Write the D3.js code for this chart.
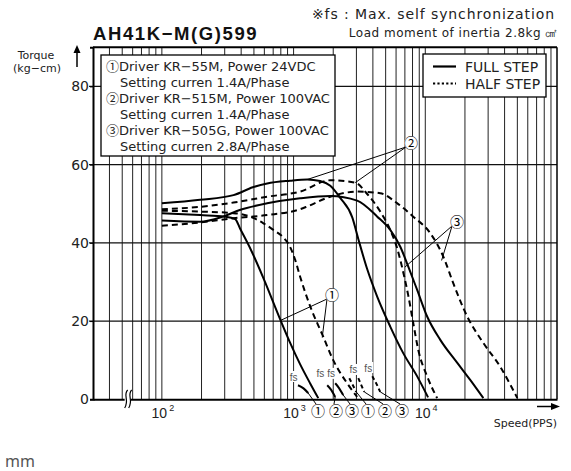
<!DOCTYPE html>
<html><head><meta charset="utf-8">
<script src="https://cdn.jsdelivr.net/npm/d3@7"></script>
<style>body{margin:0;background:#fff}text{font-family:"DejaVu Sans",sans-serif}</style>
</head><body>
<svg id="c" width="571" height="471"></svg>
<script>
// ---------- data (speed PPS, torque kg-cm) ----------
const title = "AH41K−M(G)599";
const noteFs = "※fs : Max. self synchronization";
const noteLoad = "Load moment of inertia 2.8kg ㎠";
const yTicks = [0, 20, 40, 60, 80];
const xMajor = [100, 1000, 10000];
const xMajorExp = ["2", "3", "4"];
const driverMarks = ["①", "", "②", "", "③", ""];
const driverLines = [
  "Driver KR−55M, Power 24VDC",
  "Setting curren 1.4A/Phase",
  "Driver KR−515M, Power 100VAC",
  "Setting curren 1.4A/Phase",
  "Driver KR−505G, Power 100VAC",
  "Setting curren 2.8A/Phase"
];
const stepLabels = ["FULL STEP", "HALF STEP"];

const full1 = [[100,47.6],[195,47.1],[300,46.7],[360,46.1],[393,43.6],[470,38.5],[590,31],[790,20.5],[940,14.5],[1120,9],[1340,4],[1540,0.3]];
const full2 = [[100,50.1],[195,51],[350,52.2],[490,54.2],[630,55.2],[940,55.9],[1270,56.2],[1590,55.8],[1900,54.6],[2260,51.5],[2790,46.5],[3100,41],[3620,33.3],[4320,26.2],[5420,18.6],[6800,11.8],[8700,5.8],[10500,0.5]];
const full3 = [[100,45.7],[195,45.4],[290,46.7],[390,48.4],[630,50.1],[1120,51.4],[1900,52],[3040,50.8],[4320,46.7],[5420,43.3],[6460,39],[7430,33.9],[8690,27.9],[10350,21.1],[13000,15.2],[17500,9.3],[22000,4.9],[27600,0.3]];
const half1 = [[100,48.2],[195,48],[350,47.6],[470,46.7],[590,45],[725,43],[830,41.5],[940,39],[1030,35.6],[1120,31.4],[1340,23.7],[1680,16],[2000,10],[2550,4.1],[3040,0.6]];
const half2 = [[100,48.6],[195,49.2],[350,50.3],[630,51.8],[1120,53.1],[1900,56],[2940,55.4],[3620,52.5],[4550,48],[5420,43.3],[6130,38.5],[6800,32.5],[7430,26.5],[8100,19.5],[8850,12.6],[10350,5.8],[12300,0.3]];
const half3 = [[100,44.4],[195,45.2],[350,46.3],[630,47.1],[1120,48.6],[1270,49.3],[1900,51.8],[3040,53.1],[4550,52.7],[6130,50.1],[8100,46.7],[10900,42.5],[13700,36.5],[16300,29.7],[20850,21.1],[27600,14.4],[37100,8.3],[50000,0.3]];

// fs (max self synchronization) short curves
const fsFull1 = [[1080,3.6],[1190,2.8],[1290,1.6]];
const fsFull2 = [[1800,3.6],[1930,2.4],[2070,0.6]];
const fsFull3 = [[2070,4.1],[2200,3.0],[2380,1.1]];
const fsHalf1 = [[2650,5.4],[2800,3.8],[2990,1.9]];
const fsHalf2 = [[3100,5.4],[3250,3.8],[3440,1.9]];
const fsHalf3 = [[3960,5.9],[4250,4.0],[4550,1.9]];
const fsLabelSpeeds = [1000, 1600, 1930, 2840, 3690];
const fsLabelTorques = [5.7, 6.5, 6.5, 7.5, 8.0];
const bottomMarks = ["①","②","③","①","②","③"];

// ---------- drawing ----------
const svg = d3.select("#c");
const x = d3.scaleLog().domain([30, 100000]).range([93, 557]);
const y = d3.scaleLinear().domain([0, 90]).range([399.3, 47.3]);
const X0 = x.range()[0], X1 = x.range()[1], Y0 = y.range()[0], Y1 = y.range()[1];
const FONT = "DejaVu Sans, sans-serif";
const CJK = "Noto Sans CJK KR, sans-serif";
const SANS = "Liberation Sans, Arial, sans-serif";

// vertical grid
const grid = [];
for (let e = 1; e <= 4; e++) for (let m = 1; m <= 9; m++) { const v = m * Math.pow(10, e); if (v > 30 && v < 100000) grid.push(v); }
svg.append("g").selectAll("line").data(grid).join("line")
  .attr("x1", d => x(d)).attr("x2", d => x(d)).attr("y1", Y1).attr("y2", Y0)
  .attr("stroke", "#222").attr("stroke-width", 1);
// horizontal grid
svg.append("g").selectAll("line").data(yTicks.filter(d => d > 0)).join("line")
  .attr("x1", X0 - 4).attr("x2", X1).attr("y1", d => y(d)).attr("y2", d => y(d))
  .attr("stroke", "#111").attr("stroke-width", 1.2);

// frame
svg.append("line").attr("x1", X0).attr("x2", X1).attr("y1", Y1).attr("y2", Y1).attr("stroke", "#000").attr("stroke-width", 2);
svg.append("line").attr("x1", X1).attr("x2", X1).attr("y1", Y1).attr("y2", Y0).attr("stroke", "#000").attr("stroke-width", 1.5);

// y axis
const yAxis = svg.append("g").attr("transform", `translate(${X0},0)`)
  .call(d3.axisLeft(y).tickValues(yTicks).tickSize(3).tickPadding(1).tickFormat(d3.format("d")));
yAxis.select(".domain").attr("stroke", "#000").attr("stroke-width", 2);
yAxis.selectAll("text").attr("font-size", 14).attr("fill", "#222").attr("font-family", SANS);
yAxis.selectAll(".tick line").attr("stroke", "#000");

// x axis
const xAxis = svg.append("g").attr("transform", `translate(0,${Y0})`)
  .call(d3.axisBottom(x).tickValues(xMajor).tickSize(0).tickFormat(""));
xAxis.select(".domain").attr("stroke", "#000").attr("stroke-width", 2);
const xl = svg.append("g").selectAll("text").data(xMajor).join("text")
  .attr("x", d => x(d) + 1).attr("y", 418).attr("text-anchor", "middle")
  .attr("font-size", 14).attr("fill", "#222").style("font-family", SANS);
xl.append("tspan").text("10");
xl.append("tspan").text((d, i) => xMajorExp[i]).attr("font-size", 9).attr("dx", 2).attr("dy", -7);

// axis break mark
const bx = x(55);
svg.append("rect").attr("x", bx - 3).attr("y", 393).attr("width", 6).attr("height", 12).attr("fill", "#fff");
[-2, 2].forEach(o => {
  svg.append("path").attr("d", `M${bx + o + 2},390 C${bx + o - 3},395 ${bx + o + 4},400 ${bx + o - 1},408`)
    .attr("fill", "none").attr("stroke", "#000").attr("stroke-width", 1.2);
});

// legend box left
svg.append("rect").attr("x", 101).attr("y", 55).attr("width", 234).attr("height", 101)
  .attr("fill", "#fff").attr("stroke", "#000").attr("stroke-width", 1.3);
const dl = svg.append("g").selectAll("text").data(driverLines).join("text")
  .attr("x", (d, i) => i % 2 === 0 ? 106 : 120).attr("y", (d, i) => 70.5 + i * 16)
  .attr("font-size", 13).attr("fill", "#222").style("font-family", FONT);
dl.append("tspan").style("font-family", CJK).attr("font-size", 13).text((d, i) => driverMarks[i]);
dl.append("tspan").text(d => d);

// legend box right
svg.append("rect").attr("x", 423).attr("y", 54).attr("width", 123).attr("height", 43)
  .attr("fill", "#fff").attr("stroke", "#000").attr("stroke-width", 1.3);
svg.append("line").attr("x1", 433).attr("x2", 456).attr("y1", 66.5).attr("y2", 66.5).attr("stroke", "#000").attr("stroke-width", 2.2);
svg.append("line").attr("x1", 433).attr("x2", 456).attr("y1", 83.5).attr("y2", 83.5).attr("stroke", "#000").attr("stroke-width", 2.2).attr("stroke-dasharray", "2.2,2.2");
svg.append("g").selectAll("text").data(stepLabels).join("text")
  .attr("x", 465).attr("y", (d, i) => 71.5 + i * 17).attr("font-size", 14).attr("fill", "#222")
  .style("font-family", FONT).text(d => d);

// curves
const line = d3.line().x(d => x(d[0])).y(d => y(d[1])).curve(d3.curveMonotoneX);
const cg = svg.append("g").attr("fill", "none").attr("stroke", "#000").attr("stroke-width", 2);
[full1, full2, full3].forEach(s => cg.append("path").attr("d", line(s)));
[half1, half2, half3].forEach(s => cg.append("path").attr("d", line(s)).attr("stroke-dasharray", "6,4"));
[fsFull1, fsFull2, fsFull3].forEach(s => cg.append("path").attr("d", line(s)));
[fsHalf1, fsHalf2, fsHalf3].forEach(s => cg.append("path").attr("d", line(s)).attr("stroke-dasharray", "4,3"));

// fs labels
const fsG = svg.append("g");
fsLabelSpeeds.forEach((s, i) => {
  const yy = y(fsLabelTorques[i]);
  fsG.append("rect").attr("x", x(s) - 5).attr("y", yy - 6).attr("width", 10).attr("height", 11).attr("fill", "#fff");
  fsG.append("text").attr("x", x(s)).attr("y", yy + 3.5).attr("text-anchor", "middle").attr("font-size", 10)
    .attr("fill", "#555").style("font-family", SANS).text("fs");
});

// bottom circled marks + leaders
const fsEnds = [fsFull1, fsFull2, fsFull3, fsHalf1, fsHalf2, fsHalf3].map(s => s[s.length - 1]);
const markX = [318, 336, 352, 368, 385, 402];
const lg = svg.append("g").attr("stroke", "#000").attr("stroke-width", 1);
fsEnds.forEach((p, i) => {
  lg.append("line").attr("x1", x(p[0])).attr("y1", y(p[1])).attr("x2", markX[i] - 2).attr("y2", 404);
});
svg.append("g").selectAll("text").data(bottomMarks).join("text")
  .attr("x", (d, i) => markX[i]).attr("y", 416).attr("text-anchor", "middle")
  .attr("font-size", 14).attr("fill", "#000").style("font-family", CJK).text(d => d);

// curve call-outs
function callout(lbl, lx, ly, targets) {
  targets.forEach(t => lg.append("line").attr("x1", lx - 5).attr("y1", ly + 4).attr("x2", x(t[0])).attr("y2", y(t[1])));
  svg.append("circle").attr("cx", lx).attr("cy", ly).attr("r", 7).attr("fill", "#fff");
  svg.append("text").attr("x", lx).attr("y", ly + 5).attr("text-anchor", "middle").attr("font-size", 14)
    .attr("fill", "#000").style("font-family", CJK).text(lbl);
}
callout("①", 332, 295, [[800, 20.2], [1650, 15.8]]);
callout("②", 411, 143, [[1270, 56.2], [2940, 55.4]]);
callout("③", 457, 222, [[7000, 33.8], [13300, 35.5]]);

// titles and notes
svg.append("text").attr("x", 93).attr("y", 40).attr("font-size", 18.5).attr("font-weight", "bold")
  .attr("letter-spacing", 1.6).attr("fill", "#111").style("font-family", SANS).text(title);
svg.append("text").attr("x", 555).attr("y", 19).attr("text-anchor", "end").attr("font-size", 14).attr("letter-spacing", 0.9).attr("fill", "#222")
  .style("font-family", FONT).text(noteFs);
svg.append("text").attr("x", 558).attr("y", 37).attr("text-anchor", "end").attr("font-size", 12).attr("letter-spacing", 0.5).attr("fill", "#222")
  .style("font-family", FONT).text(noteLoad);

// y label + arrow
svg.append("text").attr("x", 36).attr("y", 59).attr("text-anchor", "middle").attr("font-size", 11).attr("fill", "#222").style("font-family", FONT).text("Torque");
svg.append("text").attr("x", 37).attr("y", 72).attr("text-anchor", "middle").attr("font-size", 11).attr("fill", "#222").style("font-family", FONT).text("(kg−cm)");
svg.append("line").attr("x1", 77).attr("x2", 77).attr("y1", 67).attr("y2", 50).attr("stroke", "#000").attr("stroke-width", 1.5);
svg.append("path").attr("d", "M77,45 L73.5,53 L80.5,53 Z").attr("fill", "#000");

// x label + arrow
svg.append("text").attr("x", 557).attr("y", 427).attr("text-anchor", "end").attr("font-size", 11).attr("fill", "#222").style("font-family", FONT).text("Speed(PPS)");
svg.append("line").attr("x1", 537).attr("x2", 553).attr("y1", 406.5).attr("y2", 406.5).attr("stroke", "#000").attr("stroke-width", 1.5);
svg.append("path").attr("d", "M560,406.5 L551,403 L551,410 Z").attr("fill", "#000");

// stray text
svg.append("text").attr("x", 5).attr("y", 467).attr("font-size", 16).attr("fill", "#555").style("font-family", "Noto Sans").text("mm");
</script>
</body></html>
